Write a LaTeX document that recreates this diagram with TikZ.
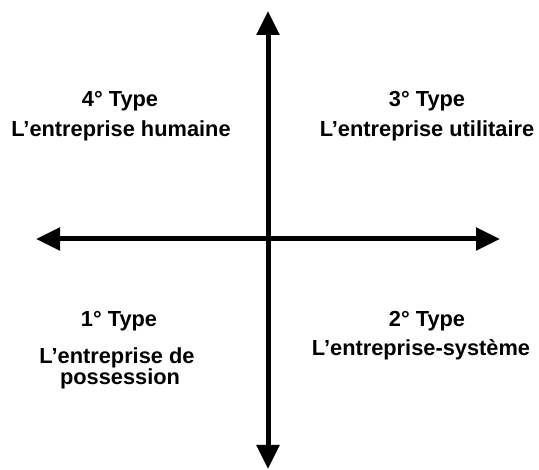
\documentclass[tikz,border=0pt]{standalone}
\usepackage{fontspec}
\setmainfont{Liberation Sans}
\usetikzlibrary{arrows.meta}
\tikzset{
  axis/.style={line width=5pt, {Triangle[length=24pt,width=22pt]}-{Triangle[length=24pt,width=22pt]}},
  lbl/.style={anchor=base, inner sep=0pt, font=\fontsize{21.8}{20}\selectfont\bfseries, align=center}
}
\begin{document}
\begin{tikzpicture}[x=1pt,y=-1pt]
\useasboundingbox (0,0) rectangle (539,470);
\coordinate (top) at (268,11);
\coordinate (bot) at (268,469);
\coordinate (left) at (36,239);
\coordinate (right) at (500,239);
\draw[axis] (bot) -- (top);
\draw[axis] (left) -- (right);
\node[lbl] (t4) at (120,107) {4° Type};
\node[lbl] (e4) at (121,137) {L’entreprise humaine};
\node[lbl] (t3) at (427,107) {3° Type};
\node[lbl] (e3) at (427,137) {L’entreprise utilitaire};
\node[lbl] (t1) at (119,327) {1° Type};
\node[lbl] (e1a) at (117,364) {L’entreprise de};
\node[lbl] (e1b) at (120,385) {possession};
\node[lbl] (t2) at (427,327) {2° Type};
\node[lbl] (e2) at (421,356) {L’entreprise-système};
\end{tikzpicture}
\end{document}
